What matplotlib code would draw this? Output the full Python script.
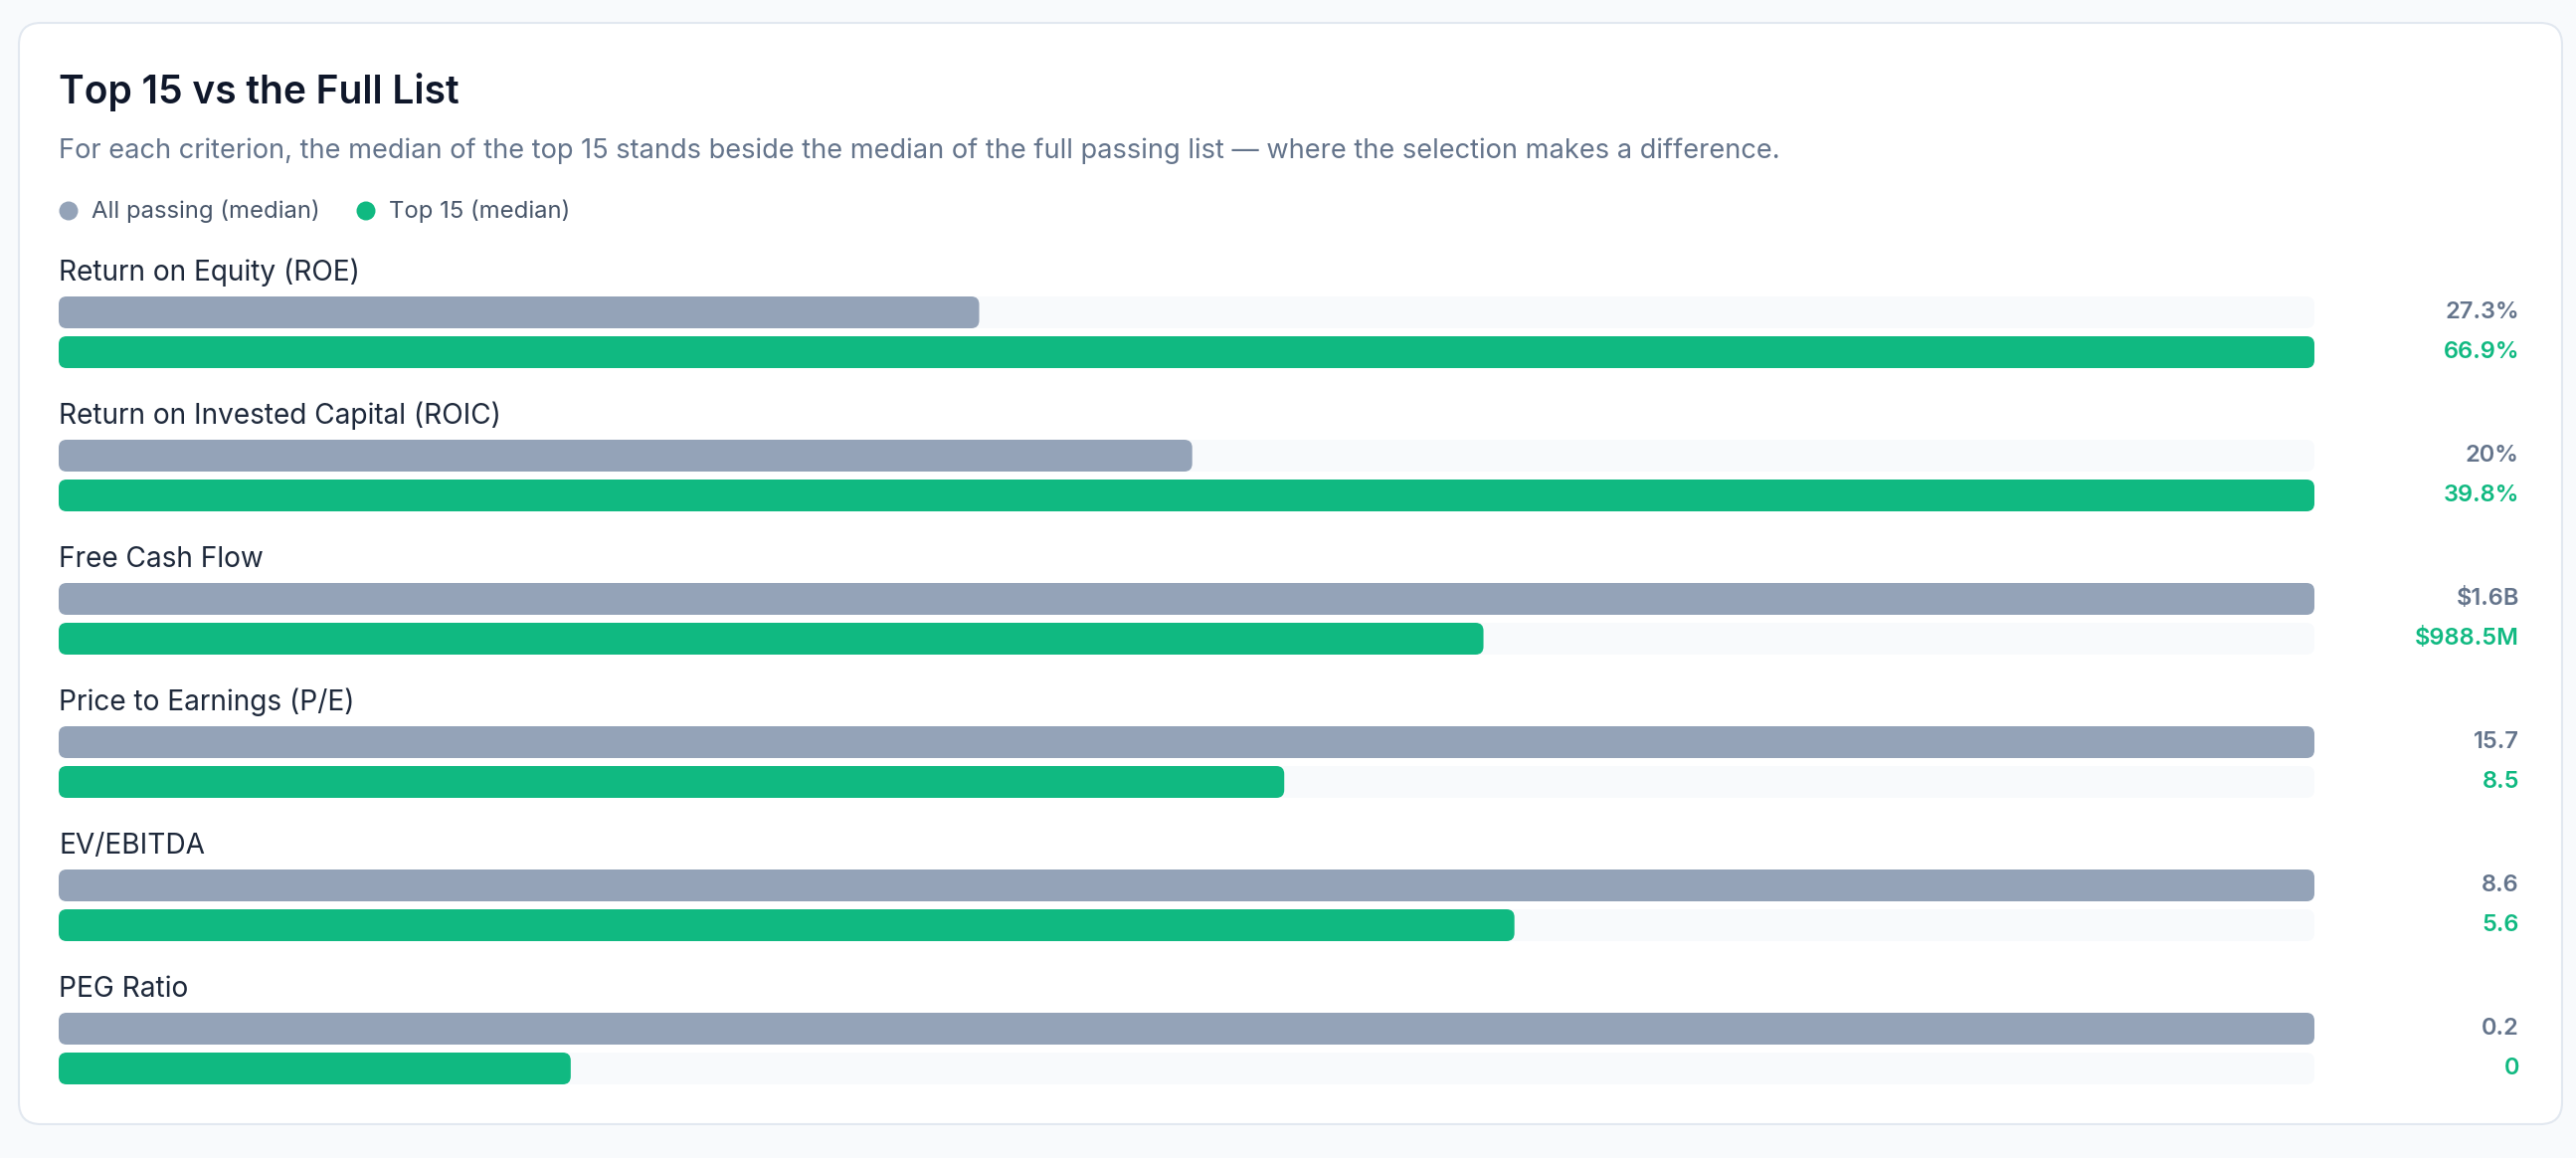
import matplotlib
matplotlib.use("Agg")
import matplotlib.pyplot as plt
from matplotlib.patches import FancyBboxPatch, Circle
import matplotlib.transforms as mtransforms

plt.rcParams['font.family'] = ['Inter', 'DejaVu Sans']

# ---- data ----
criteria = ["Return on Equity (ROE)", "Return on Invested Capital (ROIC)", "Free Cash Flow",
            "Price to Earnings (P/E)", "EV/EBITDA", "PEG Ratio"]
all_passing = [27.3, 20.0, 1565.0, 15.7, 8.6, 0.2]
top15 = [66.9, 39.8, 988.5, 8.53, 5.55, 0.0454]
all_labels = ["27.3%", "20%", "$1.6B", "15.7", "8.6", "0.2"]
top_labels = ["66.9%", "39.8%", "$988.5M", "8.5", "5.6", "0"]
series_names = ["All passing (median)", "Top 15 (median)"]

title = "Top 15 vs the Full List"
subtitle = ("For each criterion, the median of the top 15 stands beside the median of the full "
            "passing list \u2014 where the selection makes a difference.")

# ---- style ----
W, H = 2590, 1164
DPI = 100
C_GRAY = "#94a3b8"
C_GREEN = "#10b981"
C_TRACK = "#f8fafc"
C_PAGE = "#f8fafc"
C_BORDER = "#e2e8f0"
C_TITLE = "#0f172a"
C_SUB = "#64748b"
C_LABEL = "#1e293b"
C_LEG = "#475569"
C_VAL_GRAY = "#64748b"

fig = plt.figure(figsize=(W / DPI, H / DPI), dpi=DPI, facecolor=C_PAGE)

bg = fig.add_axes([0, 0, 1, 1], zorder=0)
bg.set_xlim(0, W)
bg.set_ylim(H, 0)
bg.axis("off")

# card
card = FancyBboxPatch((19, 23), 2576 - 19, 1130 - 23,
                      boxstyle="round,pad=0,rounding_size=22",
                      facecolor="white", edgecolor=C_BORDER, linewidth=1.5)
bg.add_patch(card)

bg.text(59, 104, title, fontsize=28, fontweight="semibold", color=C_TITLE, va="baseline", ha="left")
bg.text(59, 159, subtitle, fontsize=19.6, color=C_SUB, va="baseline", ha="left")

# legend
leg_items = [(69, 92, C_GRAY, series_names[0]), (368, 391, C_GREEN, series_names[1])]
for cx, tx, col, name in leg_items:
    bg.add_patch(Circle((cx, 212), 9.5, facecolor=col, edgecolor="none"))
    bg.text(tx, 212, name, fontsize=17.2, color=C_LEG, va="center", ha="left")

# rows
LEFT, RIGHT = 59, 2327
TRACK_W = RIGHT - LEFT
ROW0_TOP = 298
PITCH = 144
BAR_H = 32
GAP = 8
ROW_H = 2 * BAR_H + GAP
RAD = 8
VAL_X = 2533

for i, crit in enumerate(criteria):
    top_px = ROW0_TOP + PITCH * i
    ax = fig.add_axes([LEFT / W, 1 - (top_px + ROW_H) / H, TRACK_W / W, ROW_H / H], zorder=1)
    ax.patch.set_alpha(0)
    ax.axis("off")
    rmax = max(all_passing[i], top15[i])
    ax.set_xlim(0, rmax)
    ax.set_ylim(ROW_H, 0)
    xu = rmax / TRACK_W  # x data units per pixel

    ys = [0, BAR_H + GAP]
    vals = [all_passing[i], top15[i]]
    cols = [C_GRAY, C_GREEN]
    labels = [all_labels[i], top_labels[i]]
    vcols = [C_VAL_GRAY, C_GREEN]
    for y0, v, c, lab, vc in zip(ys, vals, cols, labels, vcols):
        track = FancyBboxPatch((0, y0), rmax, BAR_H,
                               boxstyle=f"round,pad=0,rounding_size={RAD * xu}",
                               mutation_aspect=1 / xu,
                               facecolor=C_TRACK, edgecolor="none", clip_on=False)
        ax.add_patch(track)
        bar = FancyBboxPatch((0, y0), v, BAR_H,
                             boxstyle=f"round,pad=0,rounding_size={RAD * xu}",
                             mutation_aspect=1 / xu,
                             facecolor=c, edgecolor="none", clip_on=False)
        ax.add_patch(bar)
        trans = mtransforms.blended_transform_factory(ax.transAxes, ax.transData)
        ax.text((VAL_X - LEFT) / TRACK_W, y0 + BAR_H / 2, lab, transform=trans,
                ha="right", va="center", fontsize=17, fontweight="semibold", color=vc)

    trans = mtransforms.blended_transform_factory(ax.transAxes, ax.transData)
    ax.text(0, -16, crit, transform=trans, ha="left", va="baseline",
            fontsize=20.2, color=C_LABEL, clip_on=False)

fig.savefig("out.png", dpi=DPI, facecolor=C_PAGE)
